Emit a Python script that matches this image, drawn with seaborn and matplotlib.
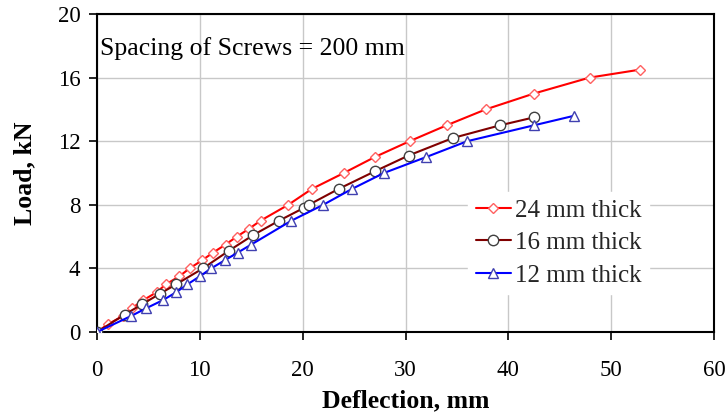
import matplotlib
matplotlib.use("Agg")
import matplotlib.pyplot as plt
import seaborn as sns
import pandas as pd

# Data (Deflection mm, Load kN)
d24 = [0, 1.1, 2.5, 3.4, 4.5, 5.8, 6.7, 8.0, 9.0, 10.2, 11.3, 12.5, 13.6, 14.8, 15.9,
       18.6, 20.9, 24.0, 27.0, 30.4, 34.0, 37.8, 42.5, 47.9, 52.8]
L24 = [0, 0.5, 1.0, 1.5, 2.0, 2.5, 3.0, 3.5, 4.0, 4.5, 5.0, 5.5, 6.0, 6.5, 7.0,
       8.0, 9.0, 10.0, 11.0, 12.0, 13.0, 14.0, 15.0, 16.0, 16.5]
d16 = [0, 2.7, 4.4, 6.1, 7.7, 10.3, 12.8, 15.2, 17.7, 20.1, 20.6, 23.5, 27.0, 30.3,
       34.6, 39.2, 42.5]
L16 = [0, 1.1, 1.75, 2.4, 3.0, 4.0, 5.1, 6.1, 7.0, 7.8, 8.0, 9.0, 10.1, 11.1,
       12.2, 13.0, 13.5]
d12 = [0, 3.3, 4.8, 6.4, 7.7, 8.8, 10.0, 11.1, 12.4, 13.7, 15.0, 18.9, 22.0, 24.8,
       27.9, 32.0, 36.0, 42.5, 46.4]
L12 = [0, 1.0, 1.5, 2.0, 2.5, 3.0, 3.5, 4.0, 4.5, 5.0, 5.5, 7.0, 8.0, 9.0,
       10.0, 11.0, 12.0, 13.0, 13.6]
labels = ["24 mm thick", "16 mm thick", "12 mm thick"]
xticks = [0, 10, 20, 30, 40, 50, 60]
yticks = [0, 4, 8, 12, 16, 20]

sns.set_theme(style="white")
plt.rcParams["font.family"] = ["Liberation Serif", "DejaVu Serif"]

fig = plt.figure(figsize=(7.26, 4.12), dpi=100)
ax = fig.add_axes([97/726, 1 - 332/412, (714-97)/726, (332-14)/412])

series = [
    (d24, L24, labels[0], "#FF0000", "D", "#FF6060", 5.5),
    (d16, L16, labels[1], "#800000", "o", "#404040", 7.5),
    (d12, L12, labels[2], "#0000FF", "^", "#4040B0", 7.5),
]
for d, L, lab, col, mk, mec, ms in series:
    df = pd.DataFrame({"Deflection": d, "Load": L})
    sns.lineplot(data=df, x="Deflection", y="Load", ax=ax, color=col, lw=1.5,
                 marker=mk, markersize=ms, markerfacecolor="white",
                 markeredgecolor=mec, markeredgewidth=1.0, label=lab,
                 sort=False, estimator=None, zorder=3)

ax.set_xlim(0, 60)
ax.set_ylim(0, 20)
ax.set_xticks(xticks)
ax.set_yticks(yticks)
ax.grid(True, color="#C8C8C8", lw=1.0)
ax.set_axisbelow(True)
for s in ax.spines.values():
    s.set_color("black")
    s.set_linewidth(1.5)
ax.tick_params(axis="both", direction="out", length=6, width=1.2, color="black",
               labelsize=16.5, labelcolor="black", bottom=True, left=True)
ax.tick_params(axis="x", pad=14)
ax.tick_params(axis="y", pad=6)

ax.set_xlabel("Deflection, mm", fontsize=18.5, fontweight="bold", color="black", labelpad=6)
ax.set_ylabel("Load, kN", fontsize=18.5, fontweight="bold", color="black", labelpad=15)

ax.text(0.005, 0.893, "Spacing of Screws = 200 mm", transform=ax.transAxes,
        fontsize=18.5, color="black", va="center", ha="left")

leg = ax.legend(loc="center left", bbox_to_anchor=(0.602, 0.28), frameon=True,
                fontsize=18, handlelength=1.4, handletextpad=0.15, labelspacing=0.4,
                borderpad=0.3, fancybox=False, borderaxespad=0)
leg.get_frame().set_facecolor("white")
leg.get_frame().set_edgecolor("white")
leg.get_frame().set_alpha(1)
leg.set_zorder(5)

fig.savefig("out.png", dpi=100)
